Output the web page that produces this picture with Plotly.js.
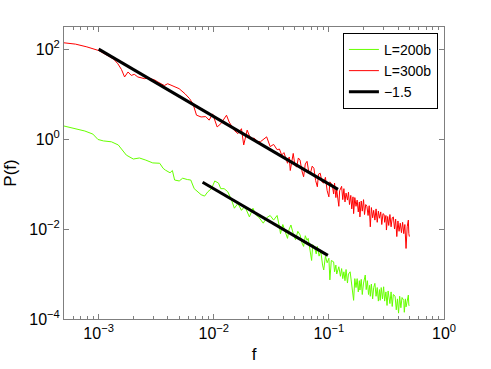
<!DOCTYPE html>
<html>
<head>
<meta charset="utf-8">
<script src="https://cdn.plot.ly/plotly-3.0.1.min.js"></script>
<style>
  html, body { margin: 0; padding: 0; background: white; }
  #chart { width: 491px; height: 369px; }
</style>
</head>
<body>
<div id="chart"></div>
<script>
// ── Data ──────────────────────────────────────────────
const fRed = [
  5.0e-4, 6.3e-4, 7.9e-4, 1.0e-3, 1.12e-3, 1.2e-3, 1.35e-3, 1.47e-3, 1.58e-3, 1.68e-3,
  1.8e-3, 1.92e-3, 2.04e-3, 2.19e-3, 2.51e-3, 2.69e-3, 2.88e-3, 3.09e-3, 3.27e-3, 3.72e-3,
  3.98e-3, 4.27e-3, 4.57e-3, 5.0e-3, 5.62e-3, 6.17e-3, 6.61e-3, 7.08e-3, 7.76e-3, 8.51e-3,
  9.12e-3, 9.77e-3, 0.0107, 0.0115, 0.0129, 0.0136, 0.0151, 0.0162, 0.0174, 0.0182,
  0.0195, 0.0209, 0.0224, 0.0240, 0.0254, 0.0269, 0.0288, 0.0309, 0.0331, 0.0355,
  0.0372, 0.0389, 0.0407, 0.0437, 0.0452, 0.0462, 0.0479, 0.0490, 0.0507, 0.0525,
  0.0543, 0.0562, 0.0582, 0.0603, 0.0624, 0.0646, 0.0668, 0.0692, 0.0716, 0.0741,
  0.0767, 0.0794, 0.0813, 0.0841, 0.0871, 0.0902, 0.0933, 0.0966, 0.100, 0.102,
  0.107, 0.110, 0.112, 0.115, 0.117, 0.122, 0.124, 0.129, 0.132, 0.135,
  0.138, 0.141, 0.145, 0.148, 0.151, 0.155, 0.158, 0.162, 0.164, 0.168,
  0.172, 0.176, 0.180, 0.184, 0.186, 0.191, 0.195, 0.200, 0.204, 0.209,
  0.214, 0.219, 0.224, 0.229, 0.234, 0.240, 0.245, 0.251, 0.257, 0.263,
  0.269, 0.275, 0.282, 0.288, 0.295, 0.302, 0.305, 0.313, 0.316, 0.324,
  0.331, 0.339, 0.347, 0.355, 0.363, 0.372, 0.380, 0.389, 0.398, 0.407,
  0.417, 0.427, 0.437, 0.447, 0.457, 0.468, 0.479, 0.490, 0.495, 0.500
];
const pRed = [
  138, 129, 112, 93, 79, 72, 60, 47, 35, 24,
  31, 26, 27.5, 24, 22, 23, 22, 20.4, 18.6, 15.5,
  17, 15.8, 14.5, 13.2, 10.2, 7.9, 6.0, 3.4, 3.1, 3.16,
  2.63, 3.63, 1.86, 2.19, 3.39, 2.40, 1.55, 1.32, 1.70, 0.74,
  1.58, 1.02, 1.05, 0.89, 0.87, 1.00, 1.12, 0.68, 0.76, 0.58,
  0.60, 0.44, 0.50, 0.29, 0.40, 0.20, 0.35, 0.48, 0.26, 0.24,
  0.38, 0.34, 0.20, 0.145, 0.28, 0.32, 0.19, 0.174, 0.25, 0.224,
  0.12, 0.087, 0.166, 0.174, 0.112, 0.105, 0.141, 0.071, 0.052, 0.112,
  0.095, 0.060, 0.105, 0.050, 0.074, 0.032, 0.071, 0.089, 0.045, 0.079,
  0.040, 0.063, 0.044, 0.066, 0.035, 0.056, 0.028, 0.052, 0.022, 0.050,
  0.032, 0.044, 0.024, 0.040, 0.0186, 0.042, 0.025, 0.045, 0.021, 0.035,
  0.032, 0.020, 0.033, 0.0112, 0.030, 0.0178, 0.026, 0.0158, 0.028, 0.0141,
  0.025, 0.0174, 0.024, 0.0126, 0.022, 0.021, 0.0141, 0.020, 0.0095, 0.019,
  0.012, 0.021, 0.0112, 0.0178, 0.0186, 0.0100, 0.0166, 0.0068, 0.0151, 0.0089,
  0.0135, 0.0083, 0.0141, 0.0079, 0.0126, 0.0037, 0.0112, 0.0158, 0.0079, 0.0068
];

const fGreen = [
  5.0e-4, 6.17e-4, 7.59e-4, 8.91e-4, 9.86e-4, 1.10e-3, 1.29e-3, 1.48e-3, 1.74e-3, 2.0e-3,
  2.26e-3, 2.57e-3, 2.95e-3, 3.39e-3, 3.63e-3, 3.80e-3, 4.17e-3, 4.37e-3, 4.57e-3, 5.01e-3,
  5.37e-3, 5.89e-3, 6.31e-3, 6.76e-3, 7.24e-3, 7.76e-3, 8.32e-3, 8.91e-3, 9.55e-3, 0.0102,
  0.0110, 0.0115, 0.0123, 0.0132, 0.0141, 0.0151, 0.0162, 0.0174, 0.0186, 0.0204,
  0.0219, 0.0234, 0.0245, 0.0257, 0.0269, 0.0288, 0.0309, 0.0331, 0.0355, 0.0372,
  0.0380, 0.0398, 0.0417, 0.0437, 0.0452, 0.0468, 0.0490, 0.0513, 0.0537, 0.0562,
  0.0582, 0.0603, 0.0624, 0.0646, 0.0661, 0.0684, 0.0708, 0.0724, 0.0750, 0.0776,
  0.0794, 0.0822, 0.0851, 0.0881, 0.0902, 0.0933, 0.0966, 0.100, 0.102, 0.105,
  0.110, 0.112, 0.115, 0.117, 0.122, 0.126, 0.129, 0.132, 0.135, 0.138,
  0.141, 0.145, 0.148, 0.153, 0.158, 0.164, 0.168, 0.172, 0.176, 0.180,
  0.184, 0.186, 0.191, 0.195, 0.200, 0.207, 0.211, 0.216, 0.221, 0.226,
  0.229, 0.234, 0.240, 0.245, 0.251, 0.257, 0.263, 0.269, 0.275, 0.279,
  0.285, 0.292, 0.299, 0.305, 0.313, 0.320, 0.327, 0.339, 0.347, 0.355,
  0.363, 0.376, 0.385, 0.394, 0.403, 0.412, 0.422, 0.432, 0.447, 0.452,
  0.462, 0.468, 0.479, 0.490, 0.495, 0.500
];
const pGreen = [
  1.95, 1.74, 1.51, 1.29, 0.98, 0.91, 0.87, 0.74, 0.44, 0.36,
  0.38, 0.34, 0.295, 0.29, 0.224, 0.204, 0.178, 0.20, 0.123, 0.117,
  0.135, 0.126, 0.123, 0.079, 0.068, 0.058, 0.054, 0.068, 0.079, 0.117,
  0.105, 0.079, 0.079, 0.068, 0.048, 0.029, 0.037, 0.026, 0.032, 0.0186,
  0.029, 0.020, 0.0186, 0.0158, 0.0135, 0.0178, 0.020, 0.0158, 0.020, 0.0112,
  0.0079, 0.0126, 0.0089, 0.0062, 0.0100, 0.0123, 0.0079, 0.0058, 0.0089, 0.0074,
  0.0050, 0.0041, 0.0071, 0.0056, 0.0062, 0.0035, 0.0020, 0.0045, 0.0040, 0.0028,
  0.0041, 0.0025, 0.0032, 0.00158, 0.00123, 0.0025, 0.00178, 0.00224, 0.00074, 0.0020,
  0.00186, 0.00112, 0.00158, 0.00100, 0.00145, 0.00089, 0.00132, 0.00079, 0.00112, 0.00071,
  0.00126, 0.00063, 0.00100, 0.00112, 0.00056, 0.00026, 0.00079, 0.00050, 0.00079, 0.00040,
  0.00071, 0.00044, 0.00076, 0.00035, 0.00063, 0.00095, 0.00045, 0.00071, 0.00035, 0.00056,
  0.00032, 0.00060, 0.00028, 0.00050, 0.00062, 0.00032, 0.00050, 0.00025, 0.00045, 0.00026,
  0.00050, 0.00028, 0.00052, 0.00025, 0.00040, 0.00020, 0.00042, 0.00022, 0.00040, 0.00019,
  0.00035, 0.00032, 0.00016, 0.00028, 0.000135, 0.00032, 0.000178, 0.00030, 0.00026, 0.000141,
  0.00028, 0.000186, 0.00025, 0.00034, 0.00020, 0.00020
];

// fitted -1.5 guide lines (end points)
const fFit1 = [1.0e-3, 0.12];
const pFit1 = [100, 0.076];
const fFit2 = [0.008, 0.098];
const pFit2 = [0.11, 0.0026];

const seriesNames = ['L=200b', 'L=300b', '\u22121.5'];
const xTickVals = [1e-3, 1e-2, 1e-1, 1];
const xTickText = ['10<sup>\u22123</sup>', '10<sup>\u22122</sup>', '10<sup>\u22121</sup>', '10<sup>0</sup>'];
const yTickVals = [1e-4, 1e-2, 1, 1e2];
const yTickText = ['10<sup>\u22124</sup>', '10<sup>\u22122</sup>', '10<sup>0</sup>', '10<sup>2</sup>'];

// minor tick positions on x (2..9 within each decade)
const xMinor = [];
for (let e = -4; e <= 0; e++) {
    for (let m = 2; m <= 9; m++) xMinor.push(m * Math.pow(10, e));
}

const FONT = { family: '"Liberation Sans", Arial, Helvetica, sans-serif', color: '#000', size: 16 };
const AXIS_COLOR = '#7f7f7f';

const traces = [
    { x: fGreen, y: pGreen, mode: 'lines', name: seriesNames[0],
      line: { color: '#66ff00', width: 1 } },
    { x: fRed, y: pRed, mode: 'lines', name: seriesNames[1],
      line: { color: '#ff0000', width: 1 } },
    { x: fFit1, y: pFit1, mode: 'lines', name: seriesNames[2],
      line: { color: '#000', width: 3 } },
    { x: fFit2, y: pFit2, mode: 'lines', showlegend: false,
      line: { color: '#000', width: 3 } },
];

const axisBase = {
    type: 'log', showgrid: false, zeroline: false,
    showline: true, linecolor: AXIS_COLOR, linewidth: 1, mirror: 'allticks',
    ticks: 'inside', ticklen: 5, tickcolor: AXIS_COLOR, tickwidth: 1,
    tickfont: { size: 16, color: '#000' },
};

const layout = {
    width: 491, height: 369,
    paper_bgcolor: 'white', plot_bgcolor: 'white',
    font: FONT,
    margin: { l: 64, r: 47, t: 27, b: 50 },
    xaxis: { ...axisBase,
        range: [Math.log10(5e-4), 0],
        tickmode: 'array', tickvals: xTickVals, ticktext: xTickText,
        minor: { tickmode: 'array', tickvals: xMinor, ticks: 'inside', ticklen: 3,
                 tickcolor: AXIS_COLOR, showgrid: false },
        title: { text: 'f', font: { size: 17 }, standoff: 6 },
    },
    yaxis: { ...axisBase,
        range: [-4, Math.log10(310)],
        tickmode: 'array', tickvals: yTickVals, ticktext: yTickText,
        title: { text: 'P(f)', font: { size: 17 }, standoff: 8 },
    },
    showlegend: true,
    legend: {
        x: 0.984, y: 0.98, xanchor: 'right', yanchor: 'top',
        bgcolor: 'white', bordercolor: '#000', borderwidth: 1,
        font: { size: 14, color: '#000' },
    },
};

Plotly.newPlot('chart', traces, layout, { displayModeBar: false, staticPlot: true });
</script>
</body>
</html>
